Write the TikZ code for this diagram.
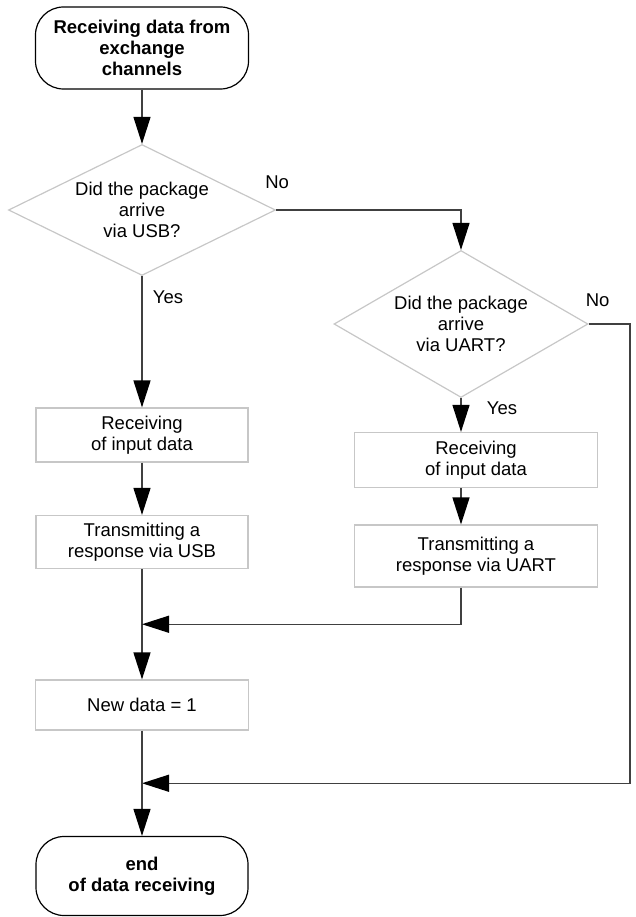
\documentclass[tikz,border=0pt]{standalone}
\usepackage{fontspec}
\setmainfont{Liberation Sans}
\usepackage{tikz}
\usetikzlibrary{arrows.meta,positioning,calc,shapes.geometric}

\newcommand{\flowfont}{\fontsize{18.5}{21}\selectfont}

\begin{document}
\begin{tikzpicture}[
  x=1pt,
  y=-1pt,
  term/.style={draw=black,line width=1.2pt,rounded corners=28pt,font=\flowfont\bfseries,align=center,inner sep=0pt},
  box/.style={draw=black!22,line width=1.2pt,font=\flowfont,align=center,inner sep=0pt},
  dec/.style={draw=black!22,line width=1.2pt,shape=diamond,font=\flowfont,align=center,inner sep=0pt},
  lbl/.style={font=\flowfont,inner sep=0pt},
  wire/.style={draw=black!75,line width=1.3pt},
  flow/.style={wire,-{Triangle[length=27pt,width=17pt,color=black]}}
]
  \useasboundingbox (0,0) rectangle (636,917);

  \node[term,minimum width=213pt,minimum height=82pt] (start) at (142,48) {Receiving data from\\exchange\\channels};
  \node[dec,aspect=2.04,minimum width=267pt,minimum height=131pt] (usb) at (142,210) {Did the package\\arrive\\via USB?};
  \node[dec,aspect=1.73,minimum width=254pt,minimum height=147pt] (uart) at (461,324) {Did the package\\arrive\\via UART?};
  \node[box,minimum width=212pt,minimum height=54pt] (rxusb) at (142,435) {Receiving\\of input data};
  \node[box,minimum width=212pt,minimum height=53pt] (txusb) at (142,542) {Transmitting a\\response via USB};
  \node[box,minimum width=243pt,minimum height=55pt] (rxuart) at (476,460) {Receiving\\of input data};
  \node[box,minimum width=243pt,minimum height=62pt] (txuart) at (476,556) {Transmitting a\\response via UART};
  \node[box,minimum width=213pt,minimum height=50pt] (newdata) at (142,705) {New data = 1};
  \node[term,minimum width=212pt,minimum height=79pt] (stop) at (142,876) {end\\of data receiving};

  % branch labels
  \node[lbl] (usbno) at ($(usb.east)+(1,-28)$) {No};
  \node[lbl] (usbyes) at ($(usb.south)+(26,21)$) {Yes};
  \node[lbl] (uartno) at ($(uart.east)+(9,-24)$) {No};
  \node[lbl] (uartyes) at ($(uart.south)+(41,10)$) {Yes};

  \coordinate (join1) at ($(txusb.south)!0.5!(newdata.north)$);
  \coordinate (join2) at ($(newdata.south)!0.5!(stop.north)$);
  \coordinate (side) at (630,0);

  \draw[flow] (start.south) -- (usb.north);
  \draw[flow] (usb.east) -| (uart.north);
  \draw[flow] (usb.south) -- (rxusb.north);
  \draw[flow] (rxusb.south) -- (txusb.north);
  \draw[flow] (txusb.south) -- (newdata.north);
  \draw[flow] (uart.south) -- (uart.south |- rxuart.north);
  \draw[flow] (uart.south |- rxuart.south) -- (uart.south |- txuart.north);
  \draw[flow] (uart.south |- txuart.south) |- (join1);
  \draw[flow] (uart.east) -- (uart.east -| side) |- (join2);
  \draw[flow] (newdata.south) -- (stop.north);
\end{tikzpicture}
\end{document}
